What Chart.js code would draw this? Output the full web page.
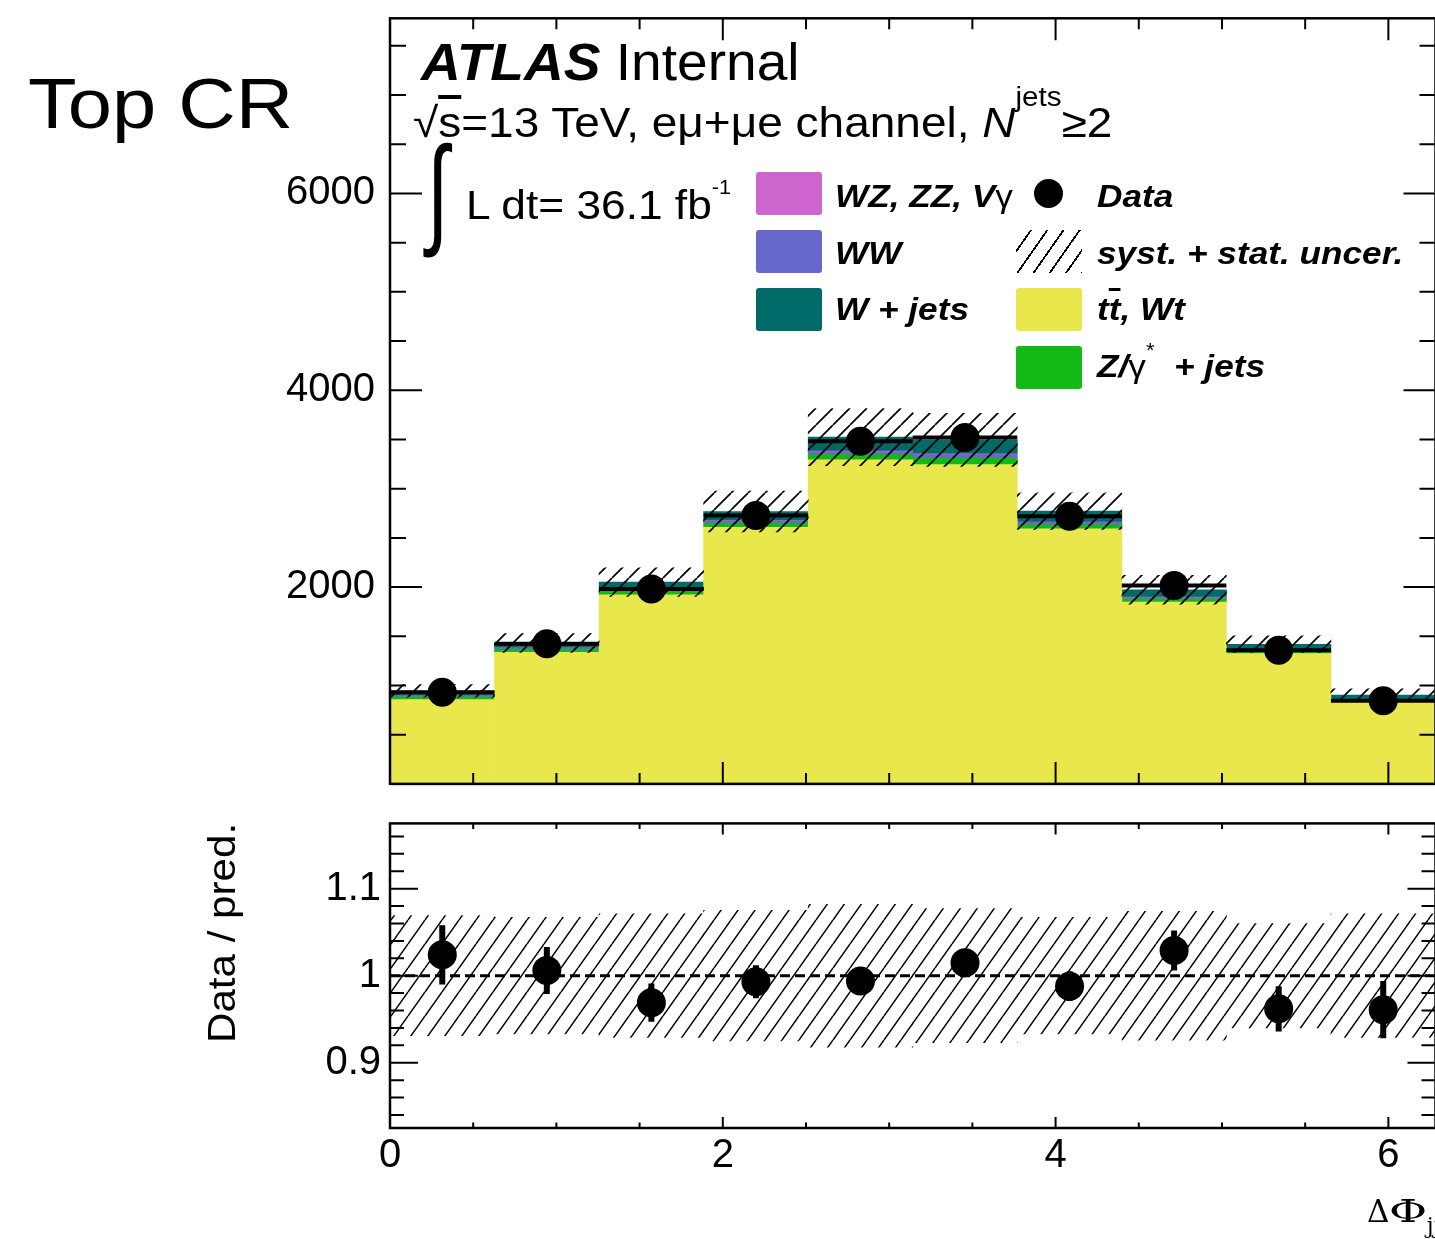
<!DOCTYPE html>
<html>
<head>
<meta charset="utf-8">
<script src="https://cdn.jsdelivr.net/npm/chart.js@4.4.1/dist/chart.umd.min.js"></script>
<style>
  html, body { margin: 0; padding: 0; background: #fff; overflow: hidden; width: 1435px; height: 1239px; }
  #page { position: relative; width: 1435px; height: 1239px; overflow: hidden;
          font-family: 'Liberation Sans', Arial, Helvetica, sans-serif; color: #000; }
  canvas { position: absolute; left: 0; }
  .t { position: absolute; white-space: nowrap; line-height: 1; transform-origin: 0 0; }
  .sw { position: absolute; border-radius: 3px; }
</style>
</head>
<body>
<div id="page">
  <canvas id="main" width="1450" height="800" style="top:0"></canvas>
  <canvas id="ratio" width="1450" height="439" style="top:800px"></canvas>
</div>
<script>
// ---------------- binning (ΔΦ_jj, ten bins over 0..2π) ----------------
const binEdges = [0, 0.6283, 1.2566, 1.8850, 2.5133, 3.1416, 3.7699, 4.3982, 5.0265, 5.6549, 6.2832];
const binLabels = binEdges.slice(0, -1).map((e, i) => e.toFixed(2) + '-' + binEdges[i + 1].toFixed(2));

// ---------------- expected events per bin (stacked, bottom first) ----------------
const ttbarWt    = [857, 1337, 1922, 2608, 3292, 3244, 2592, 1848, 1325, 831];
const zJets      = [24, 27, 30, 40, 54, 68, 41, 30, 20, 17];
const wwDiboson  = [10, 14, 22, 22, 28, 34, 22, 16, 10, 8];
const wzZzVgamma = [3, 4, 6, 6, 8, 8, 6, 5, 3, 2];
const wJets      = [50, 50, 71, 91, 142, 142, 112, 74, 61, 44];

// ---------------- observed data ----------------
const dataCounts = [931, 1425, 1980, 2727, 3481, 3521, 2720, 2017, 1358, 844];

// relative syst. + stat. uncertainty on the prediction
const relUncert = [0.069, 0.067, 0.071, 0.075, 0.082, 0.077, 0.067, 0.074, 0.060, 0.071];

// ratio panel: data / prediction and its error
const dataOverPred = [1.024, 1.006, 0.969, 0.993, 0.994, 1.015, 0.988, 1.029, 0.962, 0.961];
const ratioErr     = [0.034, 0.027, 0.022, 0.019, 0.015, 0.015, 0.017, 0.023, 0.026, 0.033];

// ---------------- axis tick labels ----------------
const yTickLabels     = [2000, 4000, 6000];
const ratioTickLabels = [0.9, 1, 1.1];
const xTickLabels     = [0, 2, 4, 6];

// ---------------- styling ----------------
const COL = { ttbar: '#e8e84c', zjets: '#15b915', ww: '#6868cc', vv: '#cc66cc', wjets: '#006a68' };
Chart.defaults.font.family = "'Liberation Sans', Arial, Helvetica, sans-serif";
Chart.defaults.color = '#000';

function makeHatch(canvas, w, h, lw) {
  const tile = document.createElement('canvas');
  tile.width = w; tile.height = h;
  const g = tile.getContext('2d');
  g.strokeStyle = '#000';
  g.lineWidth = lw;
  g.beginPath();
  for (let k = -1; k <= 1; k++) { g.moveTo(k * w, h); g.lineTo(k * w + w, 0); }
  g.stroke();
  return canvas.getContext('2d').createPattern(tile, 'repeat');
}

// fixed axis box: label space only, no extra edge padding
const fixWidth = w => s => { s.width = w; s.paddingTop = 0; s.paddingBottom = 0; };
const fixHeight = h => s => { s.height = h; s.paddingLeft = 0; s.paddingRight = 0; };
const setTicks = list => s => { s.ticks = list.map(v => ({ value: v })); };

// inward ROOT-style tick marks on all four sides, plus the frame
const frameTicks = {
  id: 'frameTicks',
  afterDraw(chart, args, o) {
    const { ctx, chartArea: a } = chart;
    const xs = chart.scales.x, ys = chart.scales.y;
    ctx.save();
    ctx.strokeStyle = '#000';
    ctx.lineWidth = 2;
    ctx.beginPath();
    const isMajor = (v, m) => Math.abs(v / m - Math.round(v / m)) < 1e-6;
    for (let n = Math.ceil(xs.min / o.xStep - 1e-9); n * o.xStep <= xs.max + 1e-9; n++) {
      const v = n * o.xStep, px = xs.getPixelForValue(v);
      const len = isMajor(v, o.xMajor) ? o.xMajLen : o.xMinLen;
      ctx.moveTo(px, a.bottom); ctx.lineTo(px, a.bottom - len);
      ctx.moveTo(px, a.top); ctx.lineTo(px, a.top + len);
    }
    for (let n = Math.ceil(ys.min / o.yStep - 1e-9); n * o.yStep <= ys.max + 1e-9; n++) {
      const v = n * o.yStep, py = ys.getPixelForValue(v);
      const len = isMajor(v, o.yMajor) ? o.yMajLen : o.yMinLen;
      ctx.moveTo(a.left, py); ctx.lineTo(a.left + len, py);
      ctx.moveTo(a.right, py); ctx.lineTo(a.right - len, py);
    }
    ctx.stroke();
    ctx.lineWidth = 2.5;
    ctx.strokeRect(a.left, a.top, a.right - a.left, a.bottom - a.top);
    ctx.restore();
  }
};

// error bars drawn just before the data markers
const dataErrors = {
  id: 'dataErrors',
  beforeDatasetDraw(chart, args, o) {
    const ds = chart.data.datasets[args.index];
    if (ds.label !== 'Data') return;
    const { ctx } = chart;
    const xs = chart.scales.x, xb = chart.scales.xb, ys = chart.scales[ds.yAxisID];
    ctx.save();
    ctx.strokeStyle = '#000';
    ctx.lineWidth = o.width;
    ctx.beginPath();
    ds.data.forEach((v, i) => {
      if (o.mode === 'bin') {
        const py = ys.getPixelForValue(v);
        ctx.moveTo(xs.getPixelForValue(binEdges[i]), py);
        ctx.lineTo(xs.getPixelForValue(binEdges[i + 1]), py);
      } else {
        const px = xb.getPixelForValue(i);
        ctx.moveTo(px, ys.getPixelForValue(v - o.errors[i]));
        ctx.lineTo(px, ys.getPixelForValue(v + o.errors[i]));
      }
    });
    ctx.stroke();
    ctx.restore();
  }
};

// ---------------- main panel ----------------
const mainCanvas = document.getElementById('main');
const hatchMain = makeHatch(mainCanvas, 17, 17, 1.7);
const predTotal = ttbarWt.map((v, i) => v + zJets[i] + wwDiboson[i] + wzZzVgamma[i] + wJets[i]);
const predBand = predTotal.map((v, i) => [v * (1 - relUncert[i]), v * (1 + relUncert[i])]);

const stackDs = (label, data, color) => ({
  type: 'bar', label, data, backgroundColor: color, borderWidth: 0,
  xAxisID: 'xb', yAxisID: 'y', grouped: false, barPercentage: 1, categoryPercentage: 1, order: 2
});

new Chart(mainCanvas, {
  type: 'bar',
  data: {
    labels: binLabels,
    datasets: [
      stackDs('tt̄, Wt', ttbarWt, COL.ttbar),
      stackDs('Z/γ* + jets', zJets, COL.zjets),
      stackDs('WW', wwDiboson, COL.ww),
      stackDs('WZ, ZZ, Vγ', wzZzVgamma, COL.vv),
      stackDs('W + jets', wJets, COL.wjets),
      { type: 'bar', label: 'syst. + stat. uncer.', data: predBand, backgroundColor: hatchMain,
        borderWidth: 0, xAxisID: 'xb', yAxisID: 'y2', grouped: false,
        barPercentage: 1, categoryPercentage: 1, order: 1 },
      { type: 'line', label: 'Data', data: dataCounts, xAxisID: 'xb', yAxisID: 'y2',
        showLine: false, pointRadius: 14.5, pointHoverRadius: 14.5, pointBackgroundColor: '#000',
        pointBorderWidth: 0, order: 0 }
    ]
  },
  options: {
    responsive: false, animation: false, devicePixelRatio: 1,
    events: [],
    layout: { padding: { left: 0, top: 18.3, right: 10, bottom: 16.1 } },
    plugins: {
      legend: { display: false }, tooltip: { enabled: false },
      frameTicks: { xStep: 0.5, xMajor: 2, xMinLen: 11, xMajLen: 22,
                    yStep: 500, yMajor: 2000, yMinLen: 16, yMajLen: 32 },
      dataErrors: { mode: 'bin', width: 4 }
    },
    scales: {
      xb: { type: 'category', display: false, offset: true },
      x:  { type: 'linear', display: false, offset: false, min: 0, max: binEdges[binEdges.length - 1] },
      y:  { type: 'linear', position: 'left', stacked: true, min: 0, max: 7780,
            grid: { display: false, drawTicks: false }, border: { display: false },
            afterBuildTicks: setTicks(yTickLabels),
            ticks: { autoSkip: false, padding: 15, font: { size: 40 }, color: '#000',
                     callback: v => String(v) },
            afterFit: fixWidth(390) },
      y2: { type: 'linear', display: false, min: 0, max: 7780 }
    }
  },
  plugins: [frameTicks, dataErrors]
});

// ---------------- ratio panel ----------------
const ratioCanvas = document.getElementById('ratio');
const hatchRatio = makeHatch(ratioCanvas, 17, 24, 1.5);
const ratioBand = relUncert.map(u => [1 - u, 1 + u]);

new Chart(ratioCanvas, {
  type: 'bar',
  data: {
    labels: binLabels,
    datasets: [
      { type: 'bar', label: 'syst. + stat. uncer.', data: ratioBand, backgroundColor: hatchRatio,
        borderWidth: 0, xAxisID: 'xb', yAxisID: 'y', grouped: false,
        barPercentage: 1, categoryPercentage: 1, order: 2 },
      { type: 'line', label: 'unity', data: [{ x: binEdges[0], y: 1 }, { x: binEdges[binEdges.length - 1], y: 1 }],
        xAxisID: 'x', yAxisID: 'y', borderColor: '#000', borderWidth: 3, borderDash: [10, 5],
        pointRadius: 0, order: 1 },
      { type: 'line', label: 'Data', data: dataOverPred, xAxisID: 'xb', yAxisID: 'y',
        showLine: false, pointRadius: 14.5, pointHoverRadius: 14.5, pointBackgroundColor: '#000',
        pointBorderWidth: 0, order: 0 }
    ]
  },
  options: {
    responsive: false, animation: false, devicePixelRatio: 1,
    events: [],
    layout: { padding: { left: 0, top: 23.4, right: 10, bottom: 0 } },
    plugins: {
      legend: { display: false }, tooltip: { enabled: false },
      frameTicks: { xStep: 0.5, xMajor: 2, xMinLen: 5.5, xMajLen: 11,
                    yStep: 0.02, yMajor: 0.1, yMinLen: 14, yMajLen: 28 },
      dataErrors: { mode: 'vertical', width: 6, errors: ratioErr }
    },
    scales: {
      xb: { type: 'category', display: false, offset: true },
      x:  { type: 'linear', position: 'bottom', offset: false, min: 0, max: binEdges[binEdges.length - 1],
            grid: { display: false, drawTicks: false }, border: { display: false },
            afterBuildTicks: setTicks(xTickLabels),
            ticks: { autoSkip: false, maxRotation: 0, padding: 4, font: { size: 40 }, color: '#000',
                     callback: v => String(v) },
            afterFit: fixHeight(111) },
      y:  { type: 'linear', position: 'left', min: 0.825, max: 1.175,
            grid: { display: false, drawTicks: false }, border: { display: false },
            afterBuildTicks: setTicks(ratioTickLabels),
            ticks: { autoSkip: false, padding: 9, font: { size: 40 }, color: '#000',
                     callback: v => String(v) },
            afterFit: fixWidth(390) }
    }
  },
  plugins: [frameTicks, dataErrors]
});

// ---------------- text annotations and legend ----------------
const page = document.getElementById('page');
const ASC = { sans: 0.8465, serif: 0.8375 };
function text(html, x, baseline, size, opt = {}) {
  const d = document.createElement('div');
  d.className = 't';
  d.innerHTML = html;
  const asc = opt.serif ? ASC.serif : ASC.sans;
  d.style.left = x + 'px';
  d.style.top = (baseline - asc * size) + 'px';
  d.style.fontSize = size + 'px';
  if (opt.family) d.style.fontFamily = opt.family;
  if (opt.bold) d.style.fontWeight = 'bold';
  if (opt.italic) d.style.fontStyle = 'italic';
  d.style.transform = 'scale(' + (opt.sx || 1) + ',' + (opt.sy || 1) + ')';
  page.appendChild(d);
  return d;
}
function swatch(x, y, w, h, bg) {
  const d = document.createElement('div');
  d.className = 'sw';
  Object.assign(d.style, { left: x + 'px', top: y + 'px', width: w + 'px', height: h + 'px', background: bg });
  page.appendChild(d);
  return d;
}
const sup = (s, size, raise) => `<span style="position:relative;top:-${raise}px;font-size:${size}px">${s}</span>`;
const upright = s => `<span style="font-style:normal;font-weight:normal">${s}</span>`;

text('Top CR', 28, 128, 71, { sx: 1.12 });
text('<b><i>ATLAS</i></b> Internal', 421, 80, 51, { sx: 1.08 });
text('√<span style="text-decoration:overline">s</span>=13 TeV, eμ+μe channel, <i>N</i>' + sup('jets', 27, 31) + '≥2',
     413, 138, 42, { sx: 1.095 });
// integral sign, drawn tall and narrow
const integ = text('∫', 426.5, 0, 104, { sx: 0.75, sy: 1.167 });
integ.style.top = '129px';
text('L dt= 36.1 fb' + sup('-1', 20, 25), 466, 220, 41, { sx: 1.08 });

// legend
swatch(756, 172, 66, 43, COL.vv);
swatch(756, 230, 66, 43, COL.ww);
swatch(756, 288, 66, 43, COL.wjets);
swatch(1016, 230, 66, 43, 'repeating-linear-gradient(125deg, transparent 0px, transparent 11.5px, #000 11.5px, #000 13.3px)').style.borderRadius = '0';
swatch(1016, 288, 66, 43, COL.ttbar);
swatch(1016, 346, 66, 43, COL.zjets);
const dot = swatch(1033.5, 178.5, 29, 29, '#000');
dot.style.borderRadius = '50%';

const LG = { bold: true, italic: true, sx: 1.1 };
text('WZ, ZZ, V' + upright('γ'), 835, 207, 32, LG);
text('WW', 835, 264, 32, LG);
text('W + jets', 835, 320, 32, LG);
text('Data', 1097, 207, 32, LG);
text('syst. + stat. uncer.', 1097, 264, 32, LG);
text('t<span style="text-decoration:overline">t</span>, Wt', 1097, 320, 32, LG);
text('Z/' + upright('γ') + sup(upright('*'), 20, 20) + '&nbsp; + jets', 1097, 377, 32, LG);

// axis titles
const yt = document.createElement('div');
yt.className = 't';
yt.textContent = 'Data / pred.';
yt.style.fontSize = '39px';
yt.style.left = '0px';
yt.style.top = '0px';
yt.style.transform = 'translate(235px, 1043px) rotate(-90deg) scaleX(1.08) translate(0px, -' + (ASC.sans * 39) + 'px)';
page.appendChild(yt);

text('Δ<span style="display:inline-block;transform:scaleX(1.5);transform-origin:0 0;margin-right:12px">Φ</span>' +
     '<span style="position:relative;top:11px;font-size:22px">jj</span>', 1367, 1222, 31,
     { family: "'DejaVu Serif', 'Liberation Serif', serif", serif: true, sx: 1.0 });
</script>
</body>
</html>
